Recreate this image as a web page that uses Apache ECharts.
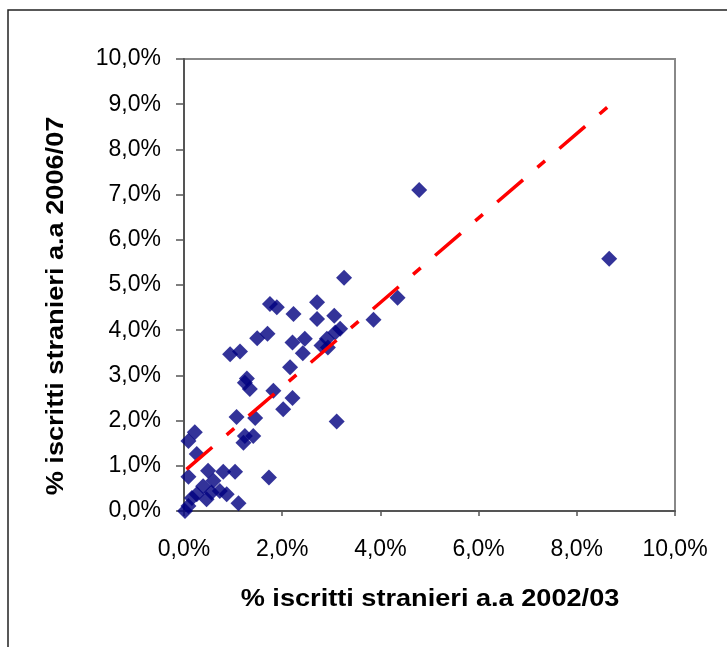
<!DOCTYPE html>
<html>
<head>
<meta charset="utf-8">
<script src="https://cdn.jsdelivr.net/npm/echarts@6/dist/echarts.min.js"></script>
<style>
html,body{margin:0;padding:0;background:#fff;}
#chart{width:727px;height:647px;}
</style>
</head>
<body>
<div id="chart"></div>
<script>
// % iscritti stranieri a.a 2002/03 (x) vs a.a 2006/07 (y)
const xValues = [0.02,0.09,0.16,0.26,0.46,0.39,0.56,0.73,0.60,0.87,0.49,0.80,1.04,1.11,0.09,1.73,0.26,0.09,0.22,1.21,1.24,1.41,1.07,1.45,1.24,1.34,1.28,0.94,1.14,1.49,1.70,1.82,2.02,2.21,2.16,2.21,2.46,2.42,1.75,1.89,2.23,2.71,2.71,3.06,3.18,3.08,2.91,2.80,2.93,3.26,3.86,4.35,3.11,4.79,8.66];
const yValues = [0.00,0.11,0.29,0.37,0.26,0.55,0.41,0.44,0.67,0.37,0.89,0.87,0.87,0.17,0.76,0.74,1.26,1.55,1.74,1.51,1.66,1.66,2.08,2.06,2.84,2.70,2.93,3.47,3.53,3.82,3.92,2.66,2.25,2.50,3.18,3.73,3.81,3.49,4.58,4.51,4.36,4.62,4.25,4.32,4.03,3.95,3.81,3.66,3.62,5.16,4.23,4.72,1.98,7.10,5.58];
// linear trend line end points
const trendX = [0.05, 8.62];
const trendY = [0.92, 8.93];
const xTicks = [0,2,4,6,8,10];
const yTicks = [0,1,2,3,4,5,6,7,8,9,10];
const xTitle = '% iscritti stranieri a.a 2002/03';
const yTitle = '% iscritti stranieri a.a 2006/07';

const fmt = v => v.toFixed(1).replace('.', ',') + '%';
const chart = echarts.init(document.getElementById('chart'), null, {renderer:'canvas'});
const font = 'Liberation Sans, Arial, sans-serif';
const titleFont = 'bold 23px Liberation Sans, Arial, sans-serif';
chart.setOption({
  animation:false,
  backgroundColor:'#fff',
  grid:{left:184,right:52,top:59,bottom:136,show:true,borderColor:'#888',borderWidth:2,backgroundColor:'#fff'},
  xAxis:{type:'value',min:xTicks[0],max:xTicks[xTicks.length-1],interval:2,
    axisLine:{show:true,onZero:false,lineStyle:{color:'#555',width:2}},
    axisTick:{show:true,inside:false,length:5,lineStyle:{color:'#555',width:1.5}},
    axisLabel:{formatter:fmt,fontFamily:font,fontSize:23,color:'#000',margin:27},
    splitLine:{show:false}},
  yAxis:{type:'value',min:yTicks[0],max:yTicks[yTicks.length-1],interval:1,
    axisLine:{show:true,onZero:false,lineStyle:{color:'#555',width:2}},
    axisTick:{show:true,inside:false,length:8,lineStyle:{color:'#555',width:1.5}},
    axisLabel:{formatter:fmt,fontFamily:font,fontSize:23,color:'#000',margin:23},
    splitLine:{show:false}},
  graphic:[
    {type:'rect',shape:{x:8,y:10,width:760,height:700},style:{fill:null,stroke:'#222',lineWidth:1.5},silent:true,z:-1},
    {type:'text',x:430,y:600,scaleX:1.18,style:{text:xTitle,font:titleFont,fill:'#000',textAlign:'center',textVerticalAlign:'middle'}},
    {type:'text',x:57,y:306,rotation:Math.PI/2,scaleX:1.18,style:{text:yTitle,font:titleFont,fill:'#000',textAlign:'center',textVerticalAlign:'middle'}}
  ],
  series:[
    {type:'scatter',data:xValues.map((x,i)=>[x,yValues[i]]),symbol:'diamond',symbolSize:16,
      itemStyle:{color:'#000080'},z:2},
    {type:'line',data:trendX.map((x,i)=>[x,trendY[i]]),symbol:'none',z:3,
      lineStyle:{color:'#ff0000',width:3.5,type:[34,19,10,19],cap:'butt'}}
  ]
});
</script>
</body>
</html>
